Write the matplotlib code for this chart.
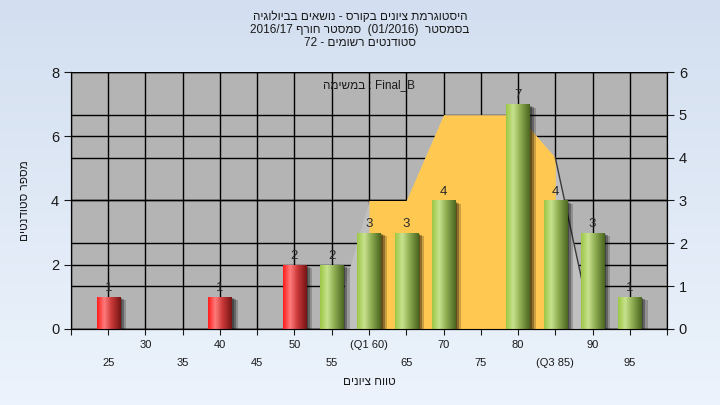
import numpy as np
import matplotlib.pyplot as plt
from matplotlib import patheffects
from matplotlib.colors import LinearSegmentedColormap

# histogram data (grade bins and number of students)
grades = [25, 30, 35, 40, 45, 50, 55, 60, 65, 70, 75, 80, 85, 90, 95]
counts = [1, 0, 0, 1, 0, 2, 2, 3, 3, 4, 0, 7, 4, 3, 1]
pass_mark = 55
q1, q3 = 60, 85

# background distribution area (right axis)
curve_x = [55, 60, 65, 70, 75, 80, 85, 90]
curve_y = [0, 3, 3, 5, 5, 5, 4, 0]


def heb(s):
    # matplotlib has no bidi support: hebrew runs are given in visual order
    return s[::-1]


title_lines = [
    heb("היסטוגרמת ציונים בקורס - נושאים בביולוגיה"),
    "2016/17 " + heb("סמסטר חורף") + "  (01/2016)  " + heb("בסמסטר"),
    "72 - " + heb("סטודנטים רשומים"),
]
task_label = heb("במשימה") + " : Final_B"
x_title = heb("טווח ציונים")
y_title = heb("מספר סטודנטים")

plt.rcParams['font.family'] = ['Liberation Sans', 'DejaVu Sans']
txt_col = '#1a1a1a'

fig = plt.figure(figsize=(7.2, 4.05), dpi=100)

# light blue gradient background
bg = fig.add_axes([0, 0, 1, 1], zorder=-10)
bg.imshow(np.linspace(0, 1, 100).reshape(-1, 1), aspect='auto', extent=[0, 1, 0, 1],
          cmap=LinearSegmentedColormap.from_list('bg', ['#d3dff0', '#ecf3fc']))
bg.set_axis_off()

ax = fig.add_axes([0.0986, 0.1877, 0.8278, 0.6345])
ax2 = ax.twinx()
ax.set_zorder(ax2.get_zorder() + 1)
ax.patch.set_visible(False)
ax2.patch.set_visible(True)
ax2.set_facecolor('#b4b4b4')

ax.set_xlim(20, 100)
ax.set_ylim(0, 8)
ax2.set_ylim(0, 6)

ax.set_yticks([0, 2, 4, 6, 8])
ax2.set_yticks([0, 1, 2, 3, 4, 5, 6])
ax.grid(axis='y', color='black', lw=1)
ax.set_axisbelow(True)
ax2.grid(axis='y', color='black', lw=1)

xt = list(range(20, 101, 5))
ax.set_xticks(xt)
ax.grid(axis='x', color='black', lw=1)
labels = []
for v in xt:
    if v in (20, 100):
        labels.append('')
    elif v == q1:
        labels.append('(Q1 %d)' % v)
    elif v == q3:
        labels.append('(Q3 %d)' % v)
    else:
        labels.append(str(v))
ax.set_xticklabels(labels, fontsize=8, color=txt_col)
for v, t in zip(xt, ax.xaxis.get_major_ticks()):
    t.set_pad(17 if v % 10 == 5 else 4)

ax.tick_params(axis='y', labelsize=10.5, length=5, colors=txt_col)
ax2.tick_params(axis='y', labelsize=10.5, length=5, colors=txt_col)
ax.tick_params(axis='x', length=4, colors=txt_col)
for a in (ax, ax2):
    for s in a.spines.values():
        s.set_color('black')
ax.spines['top'].set_visible(False)
ax2.spines['top'].set_visible(False)

# distribution area, drawn on the main axes with the right axis scale
tr = ax2.transData
ax.fill_between(curve_x, curve_y, color='#c0c0c0', lw=0, transform=tr, zorder=1)
inner = [i for i, v in enumerate(curve_x) if q1 <= v <= q3]
ax.fill_between([curve_x[i] for i in inner], [curve_y[i] for i in inner],
                color='#ffc850', lw=0, transform=tr, zorder=1.1)
tail = [i for i, v in enumerate(curve_x) if v >= q3]
ax.plot([curve_x[i] for i in tail], [curve_y[i] for i in tail], color='#3a3a3a',
        lw=1, transform=tr, zorder=1.2)

# bars with cylinder shading and a soft shadow
cm_green = LinearSegmentedColormap.from_list(
    'g', [(0, '#9cc745'), (0.3, '#c8e28e'), (0.6, '#8fae52'), (1, '#4b6620')])
cm_red = LinearSegmentedColormap.from_list(
    'r', [(0, '#ff1c1c'), (0.3, '#ff7c7c'), (0.6, '#cc3a3a'), (1, '#761414')])
grad = np.linspace(0, 1, 64).reshape(1, -1)

bx = [g for g, c in zip(grades, counts) if c > 0]
bh = [c for c in counts if c > 0]
bars = ax.bar(bx, bh, width=3.1, facecolor='none', edgecolor='none', zorder=2)
for rect, g in zip(bars, bx):
    rect.set_path_effects([
        patheffects.SimplePatchShadow(offset=(4.5, -2.5), shadow_rgbFace='black', alpha=0.2),
        patheffects.SimplePatchShadow(offset=(3, -1.8), shadow_rgbFace='black', alpha=0.3),
        patheffects.SimplePatchShadow(offset=(1.5, -1), shadow_rgbFace='black', alpha=0.3),
    ])
    x0, y0 = rect.get_x(), rect.get_y()
    im = ax.imshow(grad, aspect='auto', cmap=cm_green if g >= pass_mark else cm_red,
                   extent=[x0, x0 + rect.get_width(), y0, y0 + rect.get_height()],
                   zorder=2.5, interpolation='bilinear')
    im.set_clip_path(rect)
ax.bar_label(bars, padding=2, fontsize=9.5, color='#2a2a2a', zorder=3)

ax.set_xlim(20, 100)
ax.set_ylim(0, 8)

ax.text(0.5, 0.95, task_label, transform=ax.transAxes, ha='center', va='center',
        fontsize=8.5, color=txt_col)

for i, line in enumerate(title_lines):
    fig.text(0.5, 1 - (17.5 + 12.8 * i) / 405, line, ha='center', va='center',
             fontsize=8.5, color=txt_col)

ax.set_xlabel(x_title, fontsize=8.5, color=txt_col, labelpad=6)
ax.set_ylabel(y_title, fontsize=8.5, color=txt_col, labelpad=14)

fig.savefig('out.png', dpi=100)
